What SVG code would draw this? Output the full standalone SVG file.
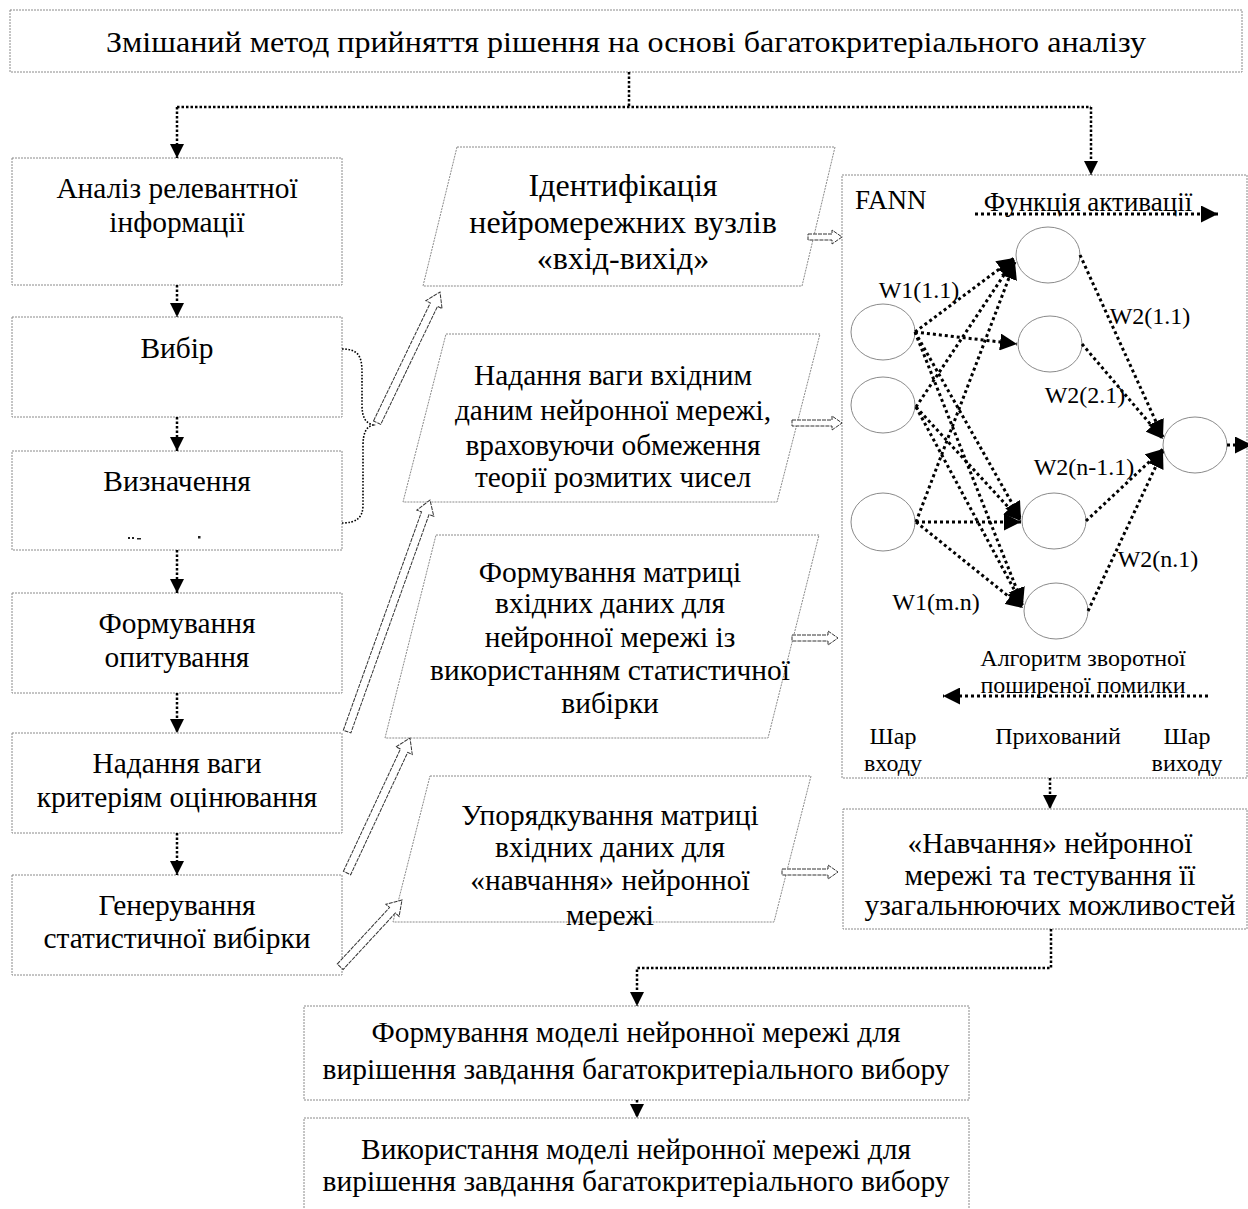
<svg xmlns="http://www.w3.org/2000/svg" width="1248" height="1209" viewBox="0 0 1248 1209">
<defs>
<style>
.box{fill:#fff;stroke:#8a8a8a;stroke-width:1;stroke-dasharray:2 1}
.t{font-family:"Liberation Serif","Times New Roman",serif;font-size:29.4px;fill:#000;text-anchor:middle}
.big{font-size:32px}
.s{font-size:24px}
.conn{fill:none;stroke:#000;stroke-width:2.5;stroke-dasharray:2.5 2}
.brace{fill:none;stroke:#000;stroke-width:1.6;stroke-dasharray:1.6 1.6}
.net{fill:none;stroke:#000;stroke-width:3;stroke-dasharray:3 3}
.blk{fill:#fff;stroke:#333;stroke-width:1;stroke-dasharray:4 1}
.neuron{fill:#fff;stroke:#8a8a8a;stroke-width:1}
</style>
<marker id="ah" markerUnits="userSpaceOnUse" markerWidth="14" markerHeight="14" viewBox="0 0 14 14" refX="14" refY="7" orient="auto"><path d="M0,0 L14,7 L0,14 z" fill="#000"/></marker>
<marker id="ahn" markerUnits="userSpaceOnUse" markerWidth="17" markerHeight="17" viewBox="0 0 16 16" refX="16" refY="8" orient="auto"><path d="M0,0 L16,8 L0,16 z" fill="#000"/></marker>
</defs>
<rect width="1248" height="1209" fill="#fff"/>

<g id="title"><rect class="box" x="10" y="10" width="1232" height="62"/><text class="t" x="626" y="52" textLength="1040" lengthAdjust="spacingAndGlyphs">Змішаний метод прийняття рішення на основі багатокритеріального аналізу</text></g>

<g id="b1"><rect class="box" x="12" y="158" width="330" height="127"/><text class="t" x="177" y="198">Аналіз релевантної</text><text class="t" x="177" y="232">інформації</text></g>
<g id="b2"><rect class="box" x="12" y="317" width="330" height="100"/><text class="t" x="177" y="358">Вибір</text></g>
<g id="b3"><rect class="box" x="12" y="451" width="330" height="99"/><text class="t" x="177" y="491">Визначення</text><g fill="#222"><rect x="128" y="537" width="2" height="2"/><rect x="132" y="537" width="2" height="2"/><rect x="137" y="538" width="4" height="1.5"/><rect x="198" y="536" width="2.5" height="2.5"/></g></g>
<g id="b4"><rect class="box" x="12" y="593" width="330" height="100"/><text class="t" x="177" y="633">Формування</text><text class="t" x="177" y="667">опитування</text></g>
<g id="b5"><rect class="box" x="12" y="733" width="330" height="100"/><text class="t" x="177" y="773">Надання ваги</text><text class="t" x="177" y="807">критеріям оцінювання</text></g>
<g id="b6"><rect class="box" x="12" y="875" width="330" height="100"/><text class="t" x="177" y="915">Генерування</text><text class="t" x="177" y="948">статистичної вибірки</text></g>

<g id="p1"><polygon class="box" points="457,147 835,147 802,286 423,286"/><text class="t big" x="623" y="196">Ідентифікація</text><text class="t big" x="623" y="233">нейромережних вузлів</text><text class="t big" x="623" y="269">«вхід-вихід»</text></g>
<g id="p2"><polygon class="box" points="446,334 820,334 777,502 403,502"/><text class="t" x="613" y="385">Надання ваги вхідним</text><text class="t" x="613" y="420">даним нейронної мережі,</text><text class="t" x="613" y="455">враховуючи обмеження</text><text class="t" x="613" y="487">теорії розмитих чисел</text></g>
<g id="p3"><polygon class="box" points="436,535 819,535 768,738 385,738"/><text class="t" x="610" y="582">Формування матриці</text><text class="t" x="610" y="613">вхідних даних для</text><text class="t" x="610" y="647">нейронної мережі із</text><text class="t" x="610" y="680">використанням статистичної</text><text class="t" x="610" y="713">вибірки</text></g>
<g id="p4"><polygon class="box" points="430,776 811,776 774,922 393,922"/><text class="t" x="610" y="825">Упорядкування матриці</text><text class="t" x="610" y="857">вхідних даних для</text><text class="t" x="610" y="890">«навчання» нейронної</text><text class="t" x="610" y="925">мережі</text></g>

<g id="fann">
<rect class="box" x="842" y="175" width="405" height="603"/>
<text class="t" x="855" y="209" style="text-anchor:start;font-size:27px">FANN</text>
<text class="t" x="1088" y="211" style="font-size:27px">Функція активації</text>
<ellipse class="neuron" cx="883" cy="332" rx="32" ry="28"/>
<ellipse class="neuron" cx="883" cy="405" rx="32" ry="28"/>
<ellipse class="neuron" cx="883" cy="522" rx="32" ry="29"/>
<ellipse class="neuron" cx="1048" cy="255" rx="32" ry="28"/>
<ellipse class="neuron" cx="1050" cy="344" rx="32" ry="28"/>
<ellipse class="neuron" cx="1054" cy="521" rx="32" ry="28"/>
<ellipse class="neuron" cx="1056" cy="611" rx="32" ry="28"/>
<ellipse class="neuron" cx="1195" cy="445" rx="32" ry="28"/>
<text class="t s" x="919" y="298">W1(1.1)</text>
<text class="t s" x="1150" y="324">W2(1.1)</text>
<text class="t s" x="1085" y="403">W2(2.1)</text>
<text class="t s" x="1084" y="475">W2(n-1.1)</text>
<text class="t s" x="1158" y="567">W2(n.1)</text>
<text class="t s" x="936" y="610">W1(m.n)</text>
<text class="t s" x="1083" y="666">Алгоритм зворотної</text>
<text class="t s" x="1083" y="693">поширеної помилки</text>
<text class="t s" x="893" y="744">Шар</text><text class="t s" x="893" y="771">входу</text>
<text class="t s" x="1058" y="744">Прихований</text>
<text class="t s" x="1187" y="744">Шар</text><text class="t s" x="1187" y="771">виходу</text>
</g>

<g id="nav"><rect class="box" x="843" y="809" width="404" height="120"/><text class="t" x="1050" y="853">«Навчання» нейронної</text><text class="t" x="1050" y="885">мережі та тестування її</text><text class="t" x="1050" y="915">узагальнюючих можливостей</text></g>

<g id="m1"><rect class="box" x="304" y="1006" width="665" height="94"/><text class="t" x="636" y="1042" textLength="529" lengthAdjust="spacingAndGlyphs">Формування моделі нейронної мережі для</text><text class="t" x="636" y="1079" textLength="627" lengthAdjust="spacingAndGlyphs">вирішення завдання багатокритеріального вибору</text></g>
<g id="m2"><rect class="box" x="304" y="1118" width="665" height="100"/><text class="t" x="636" y="1159" textLength="550" lengthAdjust="spacingAndGlyphs">Використання моделі нейронної мережі для</text><text class="t" x="636" y="1191" textLength="627" lengthAdjust="spacingAndGlyphs">вирішення завдання багатокритеріального вибору</text></g>

<g id="connectors">
<path class="conn" d="M629,72 V107 M177,107 H1091"/>
<path class="conn" d="M177,107 V158" marker-end="url(#ah)"/>
<path class="conn" d="M1091,107 V175" marker-end="url(#ah)"/>
<path class="conn" d="M177,285 V317" marker-end="url(#ah)"/>
<path class="conn" d="M177,417 V451" marker-end="url(#ah)"/>
<path class="conn" d="M177,550 V593" marker-end="url(#ah)"/>
<path class="conn" d="M177,693 V733" marker-end="url(#ah)"/>
<path class="conn" d="M177,833 V875" marker-end="url(#ah)"/>
<path class="conn" d="M1050,778 V809" marker-end="url(#ah)"/>
<path class="conn" d="M1051,929 V968 H637 V1006" marker-end="url(#ah)"/>
<path class="conn" d="M637,1100 V1118" marker-end="url(#ah)"/>
<path class="brace" d="M342,349 C358,349 362,356 362,372 L362,405 C362,418 366,423 373,425 C366,427 363,433 363,446 L363,505 C363,518 356,523 342,523"/>
<path class="blk" transform="translate(440,292) rotate(-64.3)" d="M-145,-4 H-14 V-9 L0,0 L-14,9 V4 H-145 Z"/>
<path class="blk" transform="translate(430,500) rotate(-70.3)" d="M-246,-4 H-14 V-9 L0,0 L-14,9 V4 H-246 Z"/>
<path class="blk" transform="translate(410,738) rotate(-65)" d="M-149,-4 H-14 V-9 L0,0 L-14,9 V4 H-149 Z"/>
<path class="blk" transform="translate(402,900) rotate(-47.2)" d="M-91,-4 H-14 V-9 L0,0 L-14,9 V4 H-91 Z"/>
<path class="blk" d="M808,234 H832 V230 L842,237 L832,244 V240 H808 Z"/>
<path class="blk" d="M792,420 H832 V416 L842,423 L832,430 V426 H792 Z"/>
<path class="blk" d="M792,635 H828 V631 L838,638 L828,645 V641 H792 Z"/>
<path class="blk" d="M782,869 H828 V865 L838,872 L828,879 V875 H782 Z"/>
<path class="net" d="M975,214 H1218" marker-end="url(#ahn)"/>
<path class="net" d="M1208,696 H943" marker-end="url(#ahn)"/>
<path class="net" d="M915,332 L1014,258" marker-end="url(#ahn)"/>
<path class="net" d="M915,332 L1017,344" marker-end="url(#ahn)"/>
<path class="net" d="M915,332 L1021,519" marker-end="url(#ahn)"/>
<path class="net" d="M915,332 L1023,605" marker-end="url(#ahn)"/>
<path class="net" d="M916,407 L1014,260" marker-end="url(#ahn)"/>
<path class="net" d="M916,407 L1021,521" marker-end="url(#ahn)"/>
<path class="net" d="M916,407 L1023,606" marker-end="url(#ahn)"/>
<path class="net" d="M916,522 L1015,262" marker-end="url(#ahn)"/>
<path class="net" d="M916,522 L1021,522" marker-end="url(#ahn)"/>
<path class="net" d="M916,522 L1023,608" marker-end="url(#ahn)"/>
<path class="net" d="M1080,255 L1163,437" marker-end="url(#ahn)"/>
<path class="net" d="M1082,344 L1163,439" marker-end="url(#ahn)"/>
<path class="net" d="M1086,521 L1163,449" marker-end="url(#ahn)"/>
<path class="net" d="M1088,611 L1163,451" marker-end="url(#ahn)"/>
<path class="net" d="M1227,445 H1252" marker-end="url(#ahn)"/>
</g>
</svg>
